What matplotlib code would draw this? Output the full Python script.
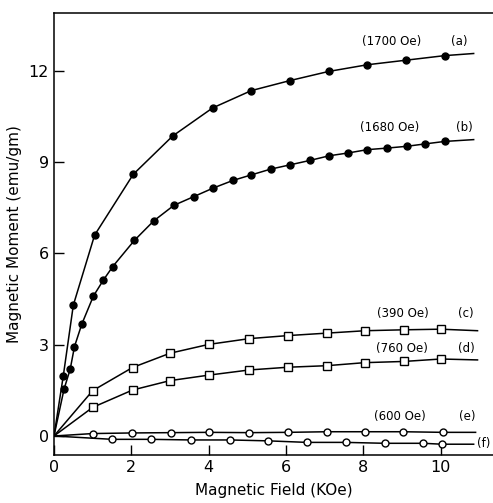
import matplotlib
matplotlib.use("Agg")
import matplotlib.pyplot as plt

# Curve (a) 1700 Oe, filled circles
a_x = [0.24, 0.5, 1.05, 2.05, 3.07, 4.1, 5.1, 6.1, 7.1, 8.1, 9.1, 10.1]
a_y = [1.97, 4.3, 6.6, 8.6, 9.86, 10.78, 11.35, 11.68, 11.98, 12.2, 12.35, 12.5]
a_end = (10.85, 12.57)

# Curve (b) 1680 Oe, filled circles
b_x = [0.26, 0.42, 0.53, 0.72, 1.02, 1.28, 1.52, 2.08, 2.58, 3.1, 3.62, 4.12, 4.63,
       5.1, 5.6, 6.1, 6.63, 7.12, 7.6, 8.1, 8.6, 9.12, 9.6, 10.1]
b_y = [1.54, 2.2, 2.94, 3.68, 4.6, 5.13, 5.57, 6.43, 7.07, 7.58, 7.87, 8.15, 8.4,
       8.58, 8.77, 8.91, 9.06, 9.21, 9.3, 9.41, 9.46, 9.52, 9.6, 9.68]
b_end = (10.85, 9.74)

# Curve (c) 390 Oe, open squares
c_x = [1.0, 2.03, 3.0, 4.0, 5.05, 6.05, 7.05, 8.05, 9.05, 10.0]
c_y = [1.49, 2.25, 2.72, 3.01, 3.2, 3.3, 3.38, 3.46, 3.49, 3.51]
c_end = (10.95, 3.46)

# Curve (d) 760 Oe, open squares
d_x = [1.0, 2.03, 3.0, 4.0, 5.05, 6.05, 7.05, 8.03, 9.05, 10.0]
d_y = [0.94, 1.51, 1.82, 2.0, 2.17, 2.26, 2.31, 2.41, 2.45, 2.53]
d_end = (10.95, 2.5)

# Curve (e) 600 Oe, open circles
e_x = [1.0, 2.02, 3.02, 4.0, 5.05, 6.04, 7.07, 8.04, 9.03, 10.05]
e_y = [0.08, 0.1, 0.11, 0.12, 0.11, 0.12, 0.14, 0.14, 0.14, 0.12]
e_end = (10.9, 0.12)

# Curve (f), open circles
f_x = [1.51, 2.52, 3.53, 4.55, 5.54, 6.54, 7.54, 8.55, 9.55, 10.03]
f_y = [-0.11, -0.11, -0.13, -0.13, -0.16, -0.21, -0.21, -0.24, -0.24, -0.27]
f_end = (10.85, -0.27)

field_labels = ["(1700 Oe)", "(1680 Oe)", "(390 Oe)", "(760 Oe)", "(600 Oe)"]
field_pos = [(8.72, 12.97), (8.67, 10.14), (9.01, 4.04), (9.0, 2.86), (8.93, 0.63)]
tags = ["(a)", "(b)", "(c)", "(d)", "(e)"]
tag_pos = [(10.48, 12.97), (10.61, 10.14), (10.66, 4.04), (10.66, 2.86), (10.68, 0.63)]

x_ticks = [0, 2, 4, 6, 8, 10]
y_ticks = [0, 3, 6, 9, 12]

fig = plt.figure(figsize=(4.93, 5.03), dpi=100)
ax = fig.add_axes([0.1095, 0.0954, 0.8905, 0.8787])

curves = [
    (a_x, a_y, a_end, dict(marker='o', markerfacecolor='black', markersize=5)),
    (b_x, b_y, b_end, dict(marker='o', markerfacecolor='black', markersize=5)),
    (c_x, c_y, c_end, dict(marker='s', markerfacecolor='white', markersize=5.5)),
    (d_x, d_y, d_end, dict(marker='s', markerfacecolor='white', markersize=5.5)),
    (e_x, e_y, e_end, dict(marker='o', markerfacecolor='white', markersize=5)),
    (f_x, f_y, f_end, dict(marker='o', markerfacecolor='white', markersize=5)),
]

for xs, ys, end, style in curves:
    # line from origin through the points to the end of the trace
    ax.plot([0] + xs + [end[0]], [0] + ys + [end[1]], color='black', lw=1.1, zorder=2)
    ax.plot(xs, ys, linestyle='none', markeredgecolor='black',
            markeredgewidth=1.0, zorder=3, **style)

for text, (x, y) in zip(field_labels, field_pos):
    ax.text(x, y, text, ha='center', va='center', fontsize=8.5)
for text, (x, y) in zip(tags, tag_pos):
    ax.text(x, y, text, ha='center', va='center', fontsize=8.5)
ax.text(10.93, -0.24, "(f)", ha='left', va='center', fontsize=8.5, clip_on=False)

ax.set_xlim(0, 11.35)
ax.set_ylim(-0.625, 13.9)
ax.set_xticks(x_ticks)
ax.set_yticks(y_ticks)
ax.tick_params(direction='in', length=7, width=1, labelsize=11.5)
ax.spines['right'].set_visible(False)
for s in ['left', 'bottom', 'top']:
    ax.spines[s].set_linewidth(1.1)

ax.set_xlabel("Magnetic Field (KOe)", fontsize=11, labelpad=6)
ax.set_ylabel("Magnetic Moment (emu/gm)", fontsize=11, labelpad=5)

fig.savefig("out.png", dpi=100)
